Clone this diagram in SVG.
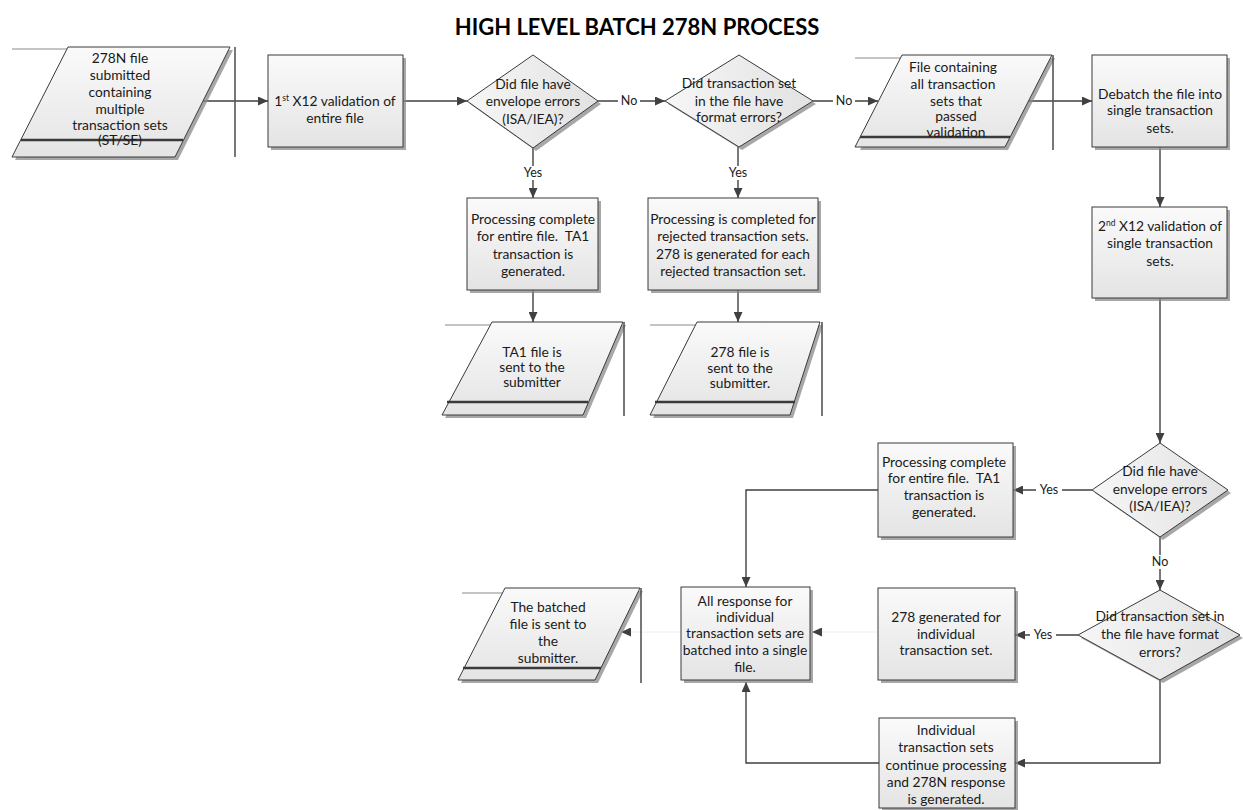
<svg xmlns="http://www.w3.org/2000/svg" width="1243" height="810" viewBox="0 0 1243 810">
<style>
.t{font-family:Lato,"Open Sans","Liberation Sans",sans-serif;font-size:13.8px;fill:#1a1a1a;text-anchor:middle}
.title{font-family:Lato,"Open Sans","Liberation Sans",sans-serif;font-size:22px;font-weight:bold;fill:#000;text-anchor:middle}
.lbl{font-family:Lato,"Open Sans","Liberation Sans",sans-serif;font-size:12.5px;fill:#1a1a1a;text-anchor:middle}
.box{fill:url(#g);stroke:#3a3a3a;stroke-width:1}
.sh{fill:#8a8a8a;opacity:0.75}
.c{fill:none;stroke:#404040;stroke-width:1.4}
.cf{fill:none;stroke:#eeeeee;stroke-width:1}
.band{stroke:#3a3a3a;stroke-width:2.5}
.hl{stroke:#8a8a8a;stroke-width:1}
.vl{stroke:#555;stroke-width:1.6}
.bg{fill:#fff}
</style>
<defs>
<linearGradient id="g" x1="0" y1="0" x2="0" y2="1">
<stop offset="0" stop-color="#fafafa"/>
<stop offset="1" stop-color="#e4e4e4"/>
</linearGradient>
<linearGradient id="gd" x1="0" y1="0" x2="1" y2="0">
<stop offset="0" stop-color="#f6f6f6"/>
<stop offset="1" stop-color="#e2e2e2"/>
</linearGradient>
<marker id="ah" markerUnits="userSpaceOnUse" markerWidth="11" markerHeight="9" refX="10" refY="4.5" orient="auto">
<path d="M0,0 L10,4.5 L0,9 z" fill="#404040"/>
</marker>
</defs>
<rect width="1243" height="810" fill="#fff"/>
<text class="title" x="637" y="35">HIGH LEVEL BATCH 278N PROCESS</text>

<g id="connectors">
<path class="c" d="M203,101 H268" marker-end="url(#ah)"/>
<path class="c" d="M403,101 H467" marker-end="url(#ah)"/>
<path class="c" d="M598,101 H665" marker-end="url(#ah)"/>
<path class="c" d="M813,101 H878" marker-end="url(#ah)"/>
<path class="c" d="M1028,101 H1092" marker-end="url(#ah)"/>
<path class="c" d="M1160,147 V207" marker-end="url(#ah)"/>
<path class="c" d="M1160,298 V443" marker-end="url(#ah)"/>
<path class="c" d="M1092,490 H1013" marker-end="url(#ah)"/>
<path class="c" d="M878,490 H746 V587" marker-end="url(#ah)"/>
<path class="c" d="M1160,537 V590" marker-end="url(#ah)"/>
<path class="c" d="M1078,635 H1015" marker-end="url(#ah)"/>
<path class="c" d="M1160,680 V763 H1015" marker-end="url(#ah)"/>
<path class="c" d="M879,763 H746 V682" marker-end="url(#ah)"/>
<path class="c" d="M533,148 V198" marker-end="url(#ah)"/>
<path class="c" d="M533,290 V322" marker-end="url(#ah)"/>
<path class="c" d="M738,147 V198" marker-end="url(#ah)"/>
<path class="c" d="M738,290 V322" marker-end="url(#ah)"/>
<path class="cf" d="M878,632 H812" marker-end="url(#ah)"/>
<path class="cf" d="M681,632 H621" marker-end="url(#ah)"/>
<rect class="bg" x="618" y="94" width="22" height="14"/>
<text class="lbl" x="629" y="105">No</text>
<rect class="bg" x="833" y="94" width="22" height="14"/>
<text class="lbl" x="844" y="105">No</text>
<rect class="bg" x="520" y="166" width="26" height="14"/>
<text class="lbl" x="533" y="177">Yes</text>
<rect class="bg" x="725" y="166" width="26" height="14"/>
<text class="lbl" x="738" y="177">Yes</text>
<rect class="bg" x="1036" y="483" width="26" height="14"/>
<text class="lbl" x="1049" y="494">Yes</text>
<rect class="bg" x="1149" y="555" width="22" height="14"/>
<text class="lbl" x="1160" y="566">No</text>
<rect class="bg" x="1030" y="628" width="26" height="14"/>
<text class="lbl" x="1043" y="639">Yes</text>
</g>

<g id="n1">
<line class="hl" x1="12" y1="49" x2="68" y2="49"/>
<polygon class="sh" points="71,50 233,50 178,160 15,160"/>
<polygon class="box" points="68,47 230,47 175,157 12,157"/>
<line class="band" x1="21" y1="140" x2="183" y2="140"/>
<line class="vl" x1="235" y1="47" x2="235" y2="157"/>
<text class="t" x="120" y="63">278N file</text>
<text class="t" x="120" y="80">submitted</text>
<text class="t" x="120" y="97">containing</text>
<text class="t" x="120" y="114">multiple</text>
<text class="t" x="120" y="130">transaction sets</text>
<text class="t" x="120" y="145">(ST/SE)</text>
</g>

<g id="n2">
<rect class="sh" x="271" y="58" width="135" height="92"/>
<rect class="box" x="268" y="55" width="135" height="92"/>
<text class="t" x="335" y="106"><tspan>1</tspan><tspan font-size="8.5" dy="-5">st</tspan><tspan dy="5"> X12 validation of</tspan></text>
<text class="t" x="335" y="123">entire file</text>
</g>

<g id="n3">
<polygon class="sh" points="536,58 601,104 536,151 470,104"/>
<polygon fill="url(#gd)" stroke="#3a3a3a" points="533,55 598,101 533,148 467,101"/>
<text class="t" x="533" y="89">Did file have</text>
<text class="t" x="533" y="106">envelope errors</text>
<text class="t" x="533" y="124">(ISA/IEA)?</text>
</g>

<g id="n4">
<polygon class="sh" points="742,58 816,104 742,150 668,104"/>
<polygon fill="url(#gd)" stroke="#3a3a3a" points="739,55 813,101 739,147 665,101"/>
<text class="t" x="739" y="88">Did transaction set</text>
<text class="t" x="739" y="106">in the file have</text>
<text class="t" x="739" y="122">format errors?</text>
</g>

<g id="n5">
<line class="hl" x1="855" y1="58" x2="902" y2="58"/>
<polygon class="sh" points="905,58 1055,58 1008,150 860,150"/>
<polygon class="box" points="902,55 1052,55 1005,147 855,147"/>
<line class="band" x1="860" y1="137" x2="1010" y2="137"/>
<line class="vl" x1="1053" y1="55" x2="1053" y2="150"/>
<text class="t" x="953" y="72">File containing</text>
<text class="t" x="953" y="89">all transaction</text>
<text class="t" x="956" y="106">sets that</text>
<text class="t" x="956" y="121">passed</text>
<text class="t" x="956" y="137">validation</text>
</g>

<g id="n6">
<rect class="sh" x="1095" y="58" width="135" height="92"/>
<rect class="box" x="1092" y="55" width="135" height="92"/>
<text class="t" x="1160" y="99">Debatch the file into</text>
<text class="t" x="1160" y="115">single transaction</text>
<text class="t" x="1160" y="133">sets.</text>
</g>

<g id="n7">
<rect class="sh" x="1095" y="210" width="135" height="91"/>
<rect class="box" x="1092" y="207" width="135" height="91"/>
<text class="t" x="1160" y="231"><tspan>2</tspan><tspan font-size="8.5" dy="-5">nd</tspan><tspan dy="5"> X12 validation of</tspan></text>
<text class="t" x="1160" y="248">single transaction</text>
<text class="t" x="1160" y="266">sets.</text>
</g>

<g id="n8">
<rect class="sh" x="470" y="201" width="131" height="92"/>
<rect class="box" x="467" y="198" width="131" height="92"/>
<text class="t" x="533" y="224">Processing complete</text>
<text class="t" x="533" y="241" xml:space="preserve">for entire file.  TA1</text>
<text class="t" x="533" y="259">transaction is</text>
<text class="t" x="533" y="276">generated.</text>
</g>

<g id="n9">
<rect class="sh" x="651" y="201" width="170" height="92"/>
<rect class="box" x="648" y="198" width="170" height="92"/>
<text class="t" x="733" y="224">Processing is completed for</text>
<text class="t" x="733" y="241">rejected transaction sets.</text>
<text class="t" x="733" y="259">278 is generated for each</text>
<text class="t" x="733" y="276">rejected transaction set.</text>
</g>

<g id="n10">
<line class="hl" x1="445" y1="325" x2="492" y2="325"/>
<polygon class="sh" points="495,325 626,325 586,418 445,418"/>
<polygon class="box" points="492,322 623,322 583,415 442,415"/>
<line class="band" x1="447" y1="402" x2="588" y2="402"/>
<line class="vl" x1="624" y1="322" x2="624" y2="416"/>
<text class="t" x="532" y="357">TA1 file is</text>
<text class="t" x="532" y="372">sent to the</text>
<text class="t" x="532" y="387">submitter</text>
</g>

<g id="n11">
<line class="hl" x1="650" y1="325" x2="697" y2="325"/>
<polygon class="sh" points="700,325 823,325 793,418 653,418"/>
<polygon class="box" points="697,322 820,322 790,415 650,415"/>
<line class="band" x1="655" y1="402" x2="795" y2="402"/>
<line class="vl" x1="822" y1="322" x2="822" y2="416"/>
<text class="t" x="740" y="357">278 file is</text>
<text class="t" x="740" y="373">sent to the</text>
<text class="t" x="740" y="388">submitter.</text>
</g>

<g id="n12">
<polygon class="sh" points="1163,446 1231,493 1163,540 1095,493"/>
<polygon fill="url(#gd)" stroke="#3a3a3a" points="1160,443 1228,490 1160,537 1092,490"/>
<text class="t" x="1160" y="476">Did file have</text>
<text class="t" x="1160" y="494">envelope errors</text>
<text class="t" x="1160" y="511">(ISA/IEA)?</text>
</g>

<g id="n13">
<rect class="sh" x="881" y="446" width="135" height="94"/>
<rect class="box" x="878" y="443" width="135" height="94"/>
<text class="t" x="944" y="467">Processing complete</text>
<text class="t" x="944" y="483" xml:space="preserve">for entire file.  TA1</text>
<text class="t" x="944" y="500">transaction is</text>
<text class="t" x="944" y="517">generated.</text>
</g>

<g id="n14">
<polygon class="sh" points="1163,593 1243,638 1163,683 1081,638"/>
<polygon fill="url(#gd)" stroke="#3a3a3a" points="1160,590 1240,635 1160,680 1078,635"/>
<text class="t" x="1160" y="621">Did transaction set in</text>
<text class="t" x="1160" y="639">the file have format</text>
<text class="t" x="1160" y="657">errors?</text>
</g>

<g id="n15">
<rect class="sh" x="881" y="591" width="137" height="92"/>
<rect class="box" x="878" y="588" width="137" height="92"/>
<text class="t" x="946" y="622">278 generated for</text>
<text class="t" x="946" y="639">individual</text>
<text class="t" x="946" y="655">transaction set.</text>
</g>

<g id="n16">
<rect class="sh" x="882" y="721" width="136" height="89"/>
<rect class="box" x="879" y="718" width="136" height="90"/>
<text class="t" x="946" y="735">Individual</text>
<text class="t" x="946" y="752">transaction sets</text>
<text class="t" x="946" y="770">continue processing</text>
<text class="t" x="946" y="787">and 278N response</text>
<text class="t" x="946" y="804">is generated.</text>
</g>

<g id="n17">
<rect class="sh" x="684" y="590" width="129" height="93"/>
<rect class="box" x="681" y="587" width="129" height="93"/>
<text class="t" x="745" y="606">All response for</text>
<text class="t" x="745" y="622">individual</text>
<text class="t" x="745" y="638">transaction sets are</text>
<text class="t" x="745" y="655">batched into a single</text>
<text class="t" x="745" y="672">file.</text>
</g>

<g id="n18">
<line class="hl" x1="462" y1="593" x2="505" y2="593"/>
<polygon class="sh" points="508,591 643,591 598,683 461,683"/>
<polygon class="box" points="505,588 640,588 595,680 458,680"/>
<line class="band" x1="463" y1="668" x2="601" y2="668"/>
<line class="vl" x1="641" y1="588" x2="641" y2="683"/>
<text class="t" x="548" y="612">The batched</text>
<text class="t" x="548" y="629">file is sent to</text>
<text class="t" x="548" y="646">the</text>
<text class="t" x="548" y="663">submitter.</text>
</g>
</svg>
